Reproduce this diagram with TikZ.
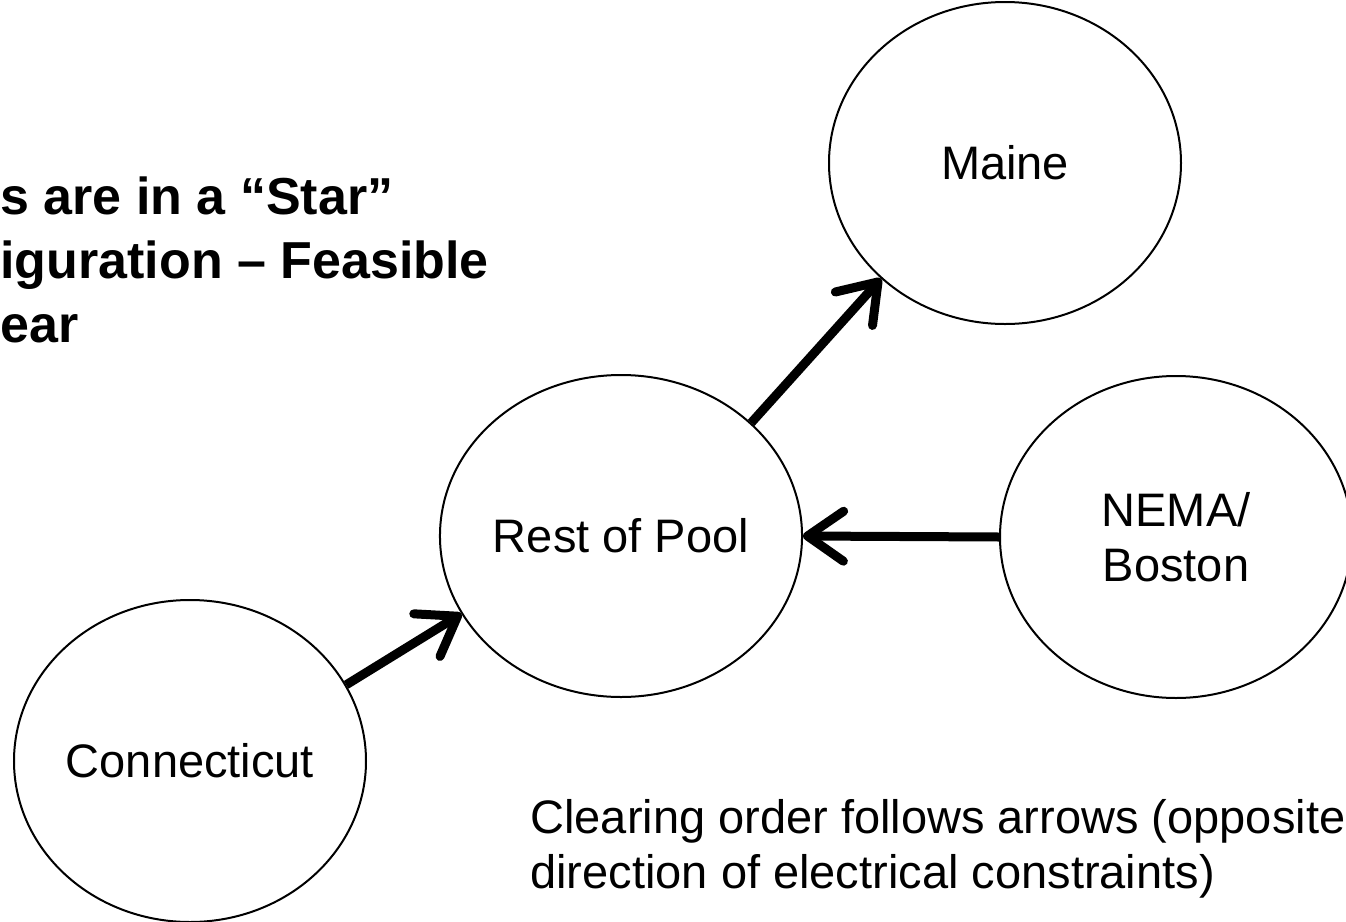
\documentclass[tikz,border=0pt]{standalone}
\usepackage{fontspec}
\setmainfont{Liberation Sans}
\usetikzlibrary{shapes.geometric,arrows.meta}

\begin{document}
\begin{tikzpicture}[x=0.5pt,y=-0.5pt]
\tikzstyle{area}=[draw=black, line width=1pt, ellipse, inner sep=0pt,
  minimum width=176pt, minimum height=161pt, align=center,
  font=\fontsize{23.5}{27.5}\selectfont]
\tikzstyle{flow}=[line width=4.5pt, -{Straight Barb[length=18pt,width=25pt,round]}]
\useasboundingbox (0,0) rectangle (1346,922);
% areas
\node [area] (maine) at (1005,163) {Maine};
\node [area] (rest) at (621,536) {Rest of Pool};
\node [area] (nema) at (1176,537) {NEMA/\\Boston};
\node [area] (conn) at (190,761) {Connecticut};
% clearing order
\draw [flow] (conn.26) -- (rest.206);
\draw [flow] (rest.41) -- (maine.223);
\draw [flow] (nema.west) -- (rest.east);
% notes
\node [anchor=base west, inner sep=0pt, align=left,
  font=\fontsize{26}{32}\selectfont\bfseries] (title) at (0,342)
  {s are in a “Star”\\iguration – Feasible\\ear};
\node [anchor=base west, inner sep=0pt, align=left,
  font=\fontsize{23.5}{27.5}\selectfont] (note) at (530,888)
  {Clearing order follows arrows (opposite\\direction of electrical constraints)};
\end{tikzpicture}
\end{document}
